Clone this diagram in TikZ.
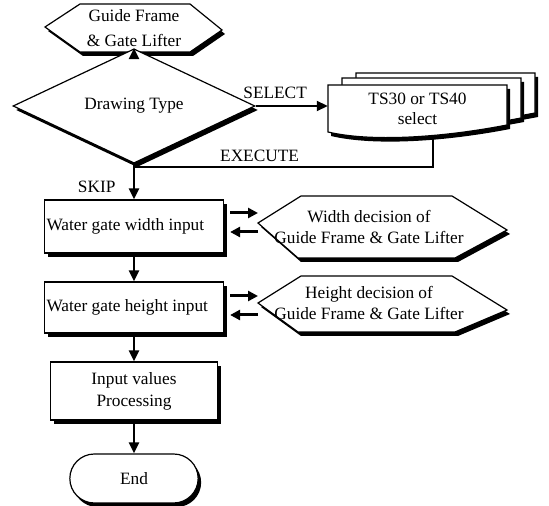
\documentclass[tikz,border=0pt]{standalone}
\usepackage{fontspec}
\setmainfont{Liberation Serif}
\usepackage{tikz}
\usetikzlibrary{arrows.meta,positioning,shapes.geometric,shapes.misc,shadows,calc}

\begin{document}
\begin{tikzpicture}[x=1pt,y=1pt,font=\fontsize{17.3}{22}\selectfont,
  blackshadow/.style={drop shadow={shadow xshift=3pt,shadow yshift=-4pt,fill=black,opacity=1}},
  outline/.style={draw,line width=1.2pt,fill=white,blackshadow},
  procbox/.style={outline,rectangle,align=center,inner sep=2pt},
  inbox/.style={outline,rectangle,align=flush left,inner sep=2pt,text width=175pt},
  flow/.style={line width=2.4pt,-{Triangle[length=11pt,width=10pt]}},
  sideflow/.style={line width=3pt,-{Triangle[length=10pt,width=10pt]}}]
  \useasboundingbox (0,0) rectangle (549,506);
  % start hexagon
  \filldraw[outline] (45,479) -- (80,502) -- (190,502) -- (222,476) -- (190,454) -- (80,454) -- cycle;
  \node[align=center,minimum width=110pt,minimum height=48pt,inner sep=0pt,
    font=\fontsize{17.3}{25}\selectfont] (gfgl) at (134,478) {Guide Frame\\\& Gate Lifter};
  % decision
  \node[outline,diamond,minimum width=242pt,minimum height=64pt,inner sep=0pt]
    (dtype) at (134,400) {Drawing Type};
  % stacked documents
  \foreach \dx/\dy in {28/12,14/7,0/0}
    \filldraw[outline,shift={(\dx,\dy)}]
      (328,421) -- (507,421) -- (507,381) .. controls (440,368) and (370,364) .. (328,374) -- cycle;
  \node[align=center,minimum width=179pt,minimum height=47pt,inner sep=0pt,
    font=\fontsize{17.3}{20}\selectfont] (tsdoc) at (417.5,397.5) {TS30 or TS40\\select};
  % width input
  \node[inbox,minimum height=53pt] (wbox) at (134,279.5) {Water gate width input};
  \filldraw[outline] (258,283) -- (301,310) -- (452,310) -- (507,276) -- (455,248) -- (298,248) -- cycle;
  \coordinate (wtip) at (258,283);
  \node[align=center,inner sep=0pt,font=\fontsize{17.3}{21}\selectfont]
    (whex) at (369,279) {Width decision of\\Guide Frame \& Gate Lifter};
  % height input
  \node[inbox,minimum height=51pt] (hbox) at (134,198.5) {Water gate height input};
  \filldraw[outline] (258,203) -- (301,230) -- (452,230) -- (507,196) -- (455,174) -- (298,174) -- cycle;
  \coordinate (htip) at (258,203);
  \node[align=center,inner sep=0pt,font=\fontsize{17.3}{21}\selectfont]
    (hhex) at (369,203) {Height decision of\\Guide Frame \& Gate Lifter};
  % processing and end
  \node[procbox,minimum width=167pt,minimum height=58pt] (proc) at (134,115) {Input values\\Processing};
  \node[outline,rounded rectangle,minimum width=135pt,minimum height=49pt] (endt) at (134,27.5) {End};
  % connectors
  \coordinate (exec) at (433,371);
  \coordinate (join) at (134,339);
  \draw[line width=1.8pt] (exec) |- (join) node[pos=0.79,above=1pt] {EXECUTE};
  \draw[flow] (gfgl.south) -- (dtype.north);
  \draw[flow] (dtype.south) -- (wbox.north) node[pos=0.64,left=14pt] {SKIP};
  \draw[flow,line width=1.8pt] (dtype.east) -- (dtype.east -| tsdoc.west) node[pos=0.27,above=3pt] {SELECT};
  \draw[flow] (wbox.south) -- (hbox.north);
  \draw[flow] (hbox.south) -- (proc.north);
  \draw[flow] (proc.south) -- (endt.north);
  % side arrows
  \draw[sideflow] ($(wbox.east)+(6,13.5)$) -- ($(wbox.east -| wtip)+(0,13.5)$);
  \draw[sideflow] ($(wbox.east -| wtip)+(0,-5.5)$) -- ($(wbox.east)+(6,-5.5)$);
  \draw[sideflow] ($(hbox.east)+(6,11.5)$) -- ($(hbox.east -| htip)+(0,11.5)$);
  \draw[sideflow] ($(hbox.east -| htip)+(0,-7.5)$) -- ($(hbox.east)+(6,-7.5)$);
\end{tikzpicture}
\end{document}
